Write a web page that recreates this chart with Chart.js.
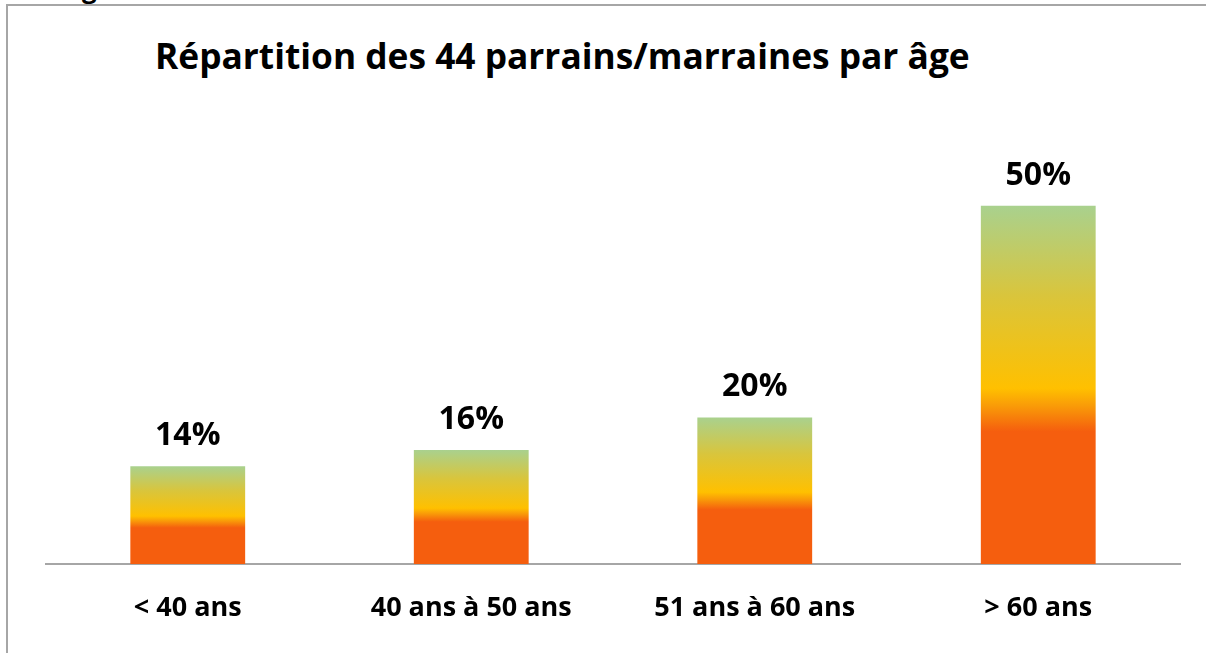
<!DOCTYPE html>
<html lang="fr">
<head>
<meta charset="utf-8">
<title>Répartition par âge</title>
<script src="https://cdn.jsdelivr.net/npm/chart.js@4/dist/chart.umd.min.js"></script>
<style>
  html, body { margin: 0; padding: 0; background: #fff; }
  body { width: 1206px; height: 653px; position: relative; overflow: hidden; font-family: "Open Sans", sans-serif; }
  #frame { position: absolute; left: 6px; top: 4px; right: -4px; bottom: -4px; border-left: 2px solid #a6a6a6; border-top: 2px solid #a6a6a6; }
  #cut { position: absolute; left: 82px; top: -30px; font: bold 26px "Open Sans", sans-serif; color: #000; }
  #titre { position: absolute; left: 155px; top: 30px; font: bold 35.3px "Open Sans", sans-serif; color: #000; white-space: nowrap; line-height: 50px; }
  #wrap { position: absolute; left: 0; top: 0; width: 1206px; height: 653px; }
</style>
</head>
<body>
<div id="cut">g</div>
<div id="frame"></div>
<div id="titre">Répartition des 44 parrains/marraines par âge</div>
<div id="wrap"><canvas id="ageChart"></canvas></div>
<script>
/* ===========================================================
   Données
=========================================================== */
const categories = ["< 40 ans", "40 ans à 50 ans", "51 ans à 60 ans", "> 60 ans"];
const pourcentages = [13.64, 15.91, 20.45, 50];
const yMax = 60;

/* ===========================================================
   Dégradé orange -> jaune -> vert, par barre
=========================================================== */
function barGradient(context) {
    const chart = context.chart;
    if (!chart.chartArea || context.type !== "data") return "#f55e0e";
    const y = chart.scales.y;
    const bas = y.getPixelForValue(0);
    const haut = y.getPixelForValue(context.raw);
    const g = chart.ctx.createLinearGradient(0, bas, 0, haut);
    g.addColorStop(0, "#f55e0e");
    g.addColorStop(0.37, "#f55e0e");
    g.addColorStop(0.44, "#f99a08");
    g.addColorStop(0.49, "#ffc000");
    g.addColorStop(0.75, "#d9c53c");
    g.addColorStop(1, "#a9d18e");
    return g;
}

/* ===========================================================
   Étiquettes au-dessus des barres
=========================================================== */
const etiquettes = {
    id: "etiquettes",
    afterDatasetsDraw(chart) {
        const ctx = chart.ctx;
        const meta = chart.getDatasetMeta(0);
        ctx.save();
        ctx.font = "bold 32px 'Open Sans', sans-serif";
        ctx.fillStyle = "#000";
        ctx.textAlign = "center";
        ctx.textBaseline = "alphabetic";
        meta.data.forEach((bar, i) => {
            ctx.fillText(Math.round(pourcentages[i]) + "%", bar.x, bar.y - 21);
        });
        ctx.restore();
    }
};

new Chart(document.getElementById("ageChart"), {
    type: "bar",
    data: {
        labels: categories,
        datasets: [{
            data: pourcentages,
            backgroundColor: barGradient,
            borderWidth: 0,
            barPercentage: 0.405,
            categoryPercentage: 1
        }]
    },
    options: {
        responsive: true,
        maintainAspectRatio: false,
        animation: false,
        layout: { padding: { top: 134, left: 46, right: 26, bottom: 0 } },
        plugins: {
            legend: { display: false },
            title: { display: false },
            tooltip: { enabled: false }
        },
        scales: {
            x: {
                grid: { display: false },
                border: { display: true, color: "#a6a6a6", width: 2 },
                ticks: {
                    color: "#000",
                    font: { family: "'Open Sans', sans-serif", size: 27, weight: "bold" },
                    padding: 20,
                    maxRotation: 0
                },
                afterFit(scale) { scale.height = 89; }
            },
            y: {
                display: false,
                min: 0,
                max: yMax
            }
        }
    },
    plugins: [etiquettes]
});
</script>
</body>
</html>
